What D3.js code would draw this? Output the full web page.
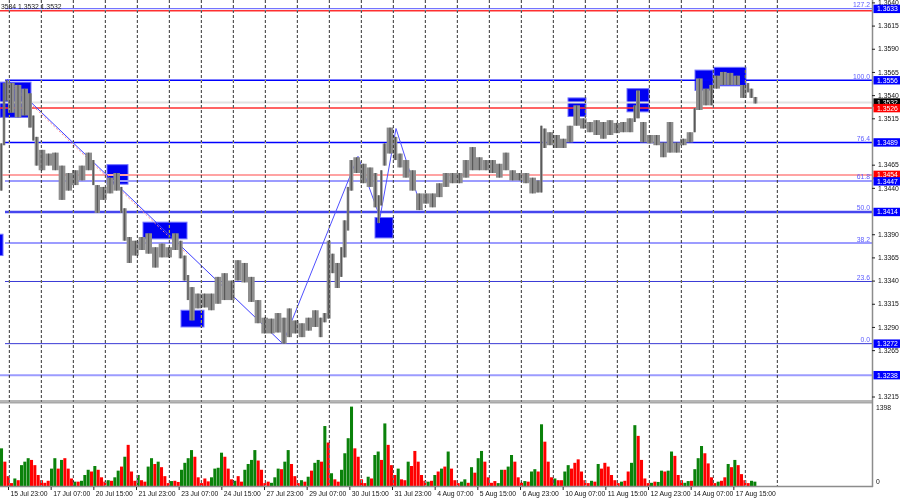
<!DOCTYPE html>
<html>
<head>
<meta charset="utf-8">
<script src="https://cdn.jsdelivr.net/npm/d3@7"></script>
<style>
  body { margin: 0; background: #fff; }
  svg { display: block; font-family: "Liberation Sans", Arial, sans-serif; }
  .grid line { mix-blend-mode: difference; }
</style>
</head>
<body>
<svg id="chart" width="900" height="500"></svg>
<script>
/* Price samples: start hour (bar index from left edge), high, low */
const barTimes = [0,2,4,6,11,16,21,24,26,29,34,39,44,49,54,59,64,69,71,75,80,85,90,92,95,99,104,109,114,119,124,129,134,137,140,142,146,151,156,161,166,171,176,181,186,191,196,201,206,211,215,219,224,229,234,239,242,245,248,251,255,257,260,262,265,270,275,280,283,285,287,290,295,298,302,307,312,317,322,327,332,337,342,347,352,357,362,367,372,377,382,387,392,397,402,405,407,410,415,420,425,430,435,440,445,450,455,460,465,470,475,477,480,485,490,495,500,505,510,515,520,522,527,532,535,540,545,550,555,560,562,565];
const lastBarEnd = 568;
const barHigh = [1.3488,1.3553,1.3556,1.3553,1.3551,1.3547,1.3542,1.3518,1.3495,1.3481,1.3477,1.3478,1.3464,1.3456,1.3459,1.3464,1.3478,1.3470,1.3443,1.3441,1.3451,1.3456,1.3441,1.3418,1.3387,1.3383,1.3387,1.3391,1.3376,1.3380,1.3376,1.3391,1.3383,1.3367,1.3346,1.3333,1.3326,1.3326,1.3326,1.3344,1.3348,1.3340,1.3362,1.3359,1.3344,1.3319,1.3300,1.3299,1.3305,1.3300,1.3310,1.3297,1.3294,1.3300,1.3308,1.3300,1.3305,1.3383,1.3369,1.3359,1.3376,1.3405,1.3441,1.3470,1.3473,1.3466,1.3462,1.3456,1.3432,1.3459,1.3488,1.3505,1.3495,1.3477,1.3470,1.3459,1.3434,1.3434,1.3434,1.3445,1.3456,1.3456,1.3456,1.3470,1.3484,1.3473,1.3470,1.3470,1.3466,1.3478,1.3459,1.3456,1.3456,1.3451,1.3448,1.3507,1.3504,1.3500,1.3497,1.3493,1.3507,1.3529,1.3515,1.3511,1.3513,1.3511,1.3513,1.3510,1.3511,1.3515,1.3529,1.3545,1.3511,1.3497,1.3497,1.3489,1.3511,1.3489,1.3493,1.3500,1.3526,1.3558,1.3547,1.3551,1.3561,1.3565,1.3564,1.3561,1.3551,1.3553,1.3547,1.3538];
const barLow = [1.3437,1.3486,1.3534,1.3521,1.3516,1.3518,1.3505,1.3491,1.3464,1.3459,1.3464,1.3459,1.3427,1.3437,1.3443,1.3448,1.3459,1.3443,1.3413,1.3427,1.3434,1.3437,1.3413,1.3383,1.3359,1.3367,1.3373,1.3369,1.3354,1.3365,1.3365,1.3373,1.3364,1.3340,1.3319,1.3297,1.3310,1.3311,1.3308,1.3315,1.3319,1.3319,1.3340,1.3338,1.3317,1.3294,1.3283,1.3283,1.3284,1.3272,1.3279,1.3283,1.3279,1.3286,1.3290,1.3279,1.3295,1.3299,1.3348,1.3332,1.3344,1.3365,1.3394,1.3437,1.3456,1.3445,1.3441,1.3419,1.3402,1.3421,1.3464,1.3477,1.3470,1.3462,1.3451,1.3437,1.3416,1.3423,1.3419,1.3430,1.3441,1.3445,1.3445,1.3451,1.3459,1.3459,1.3459,1.3456,1.3451,1.3459,1.3448,1.3448,1.3445,1.3434,1.3435,1.3435,1.3483,1.3486,1.3483,1.3483,1.3489,1.3507,1.3504,1.3500,1.3497,1.3493,1.3497,1.3499,1.3500,1.3500,1.3511,1.3515,1.3489,1.3488,1.3486,1.3473,1.3478,1.3478,1.3486,1.3489,1.3500,1.3524,1.3529,1.3529,1.3547,1.3551,1.3551,1.3551,1.3537,1.3543,1.3537,1.3531];

/* Volume samples, every 2.5 bars */
const volumeStep = 2.5;
const volumes = [650,420,170,50,130,100,360,420,480,450,
  360,190,100,55,90,300,480,300,450,480,
  300,130,75,75,90,190,280,250,345,280,
  150,75,100,90,150,265,335,505,710,250,
  90,190,100,75,335,480,380,420,325,170,
  50,85,90,70,280,400,480,620,505,150,
  50,130,80,150,300,315,575,505,300,115,
  90,170,75,280,380,450,620,440,280,50,
  75,55,150,300,290,420,620,380,170,50,
  100,75,160,265,400,450,420,1035,750,220,
  115,75,280,565,825,1370,650,505,115,50,
  160,130,535,595,450,1080,710,360,190,300,
  115,100,420,345,605,420,190,90,75,90,
  190,250,300,335,595,
  300,100,50,75,115,
  55,325,230,480,605,420,150,55,85,50,
  280,280,335,535,420,150,55,85,75,250,
  290,250,1065,765,420,150,130,100,100,250,
  360,300,400,460,250,100,50,90,75,380,
  300,400,335,190,100,50,75,90,250,400,
  1050,865,450,130,50,55,75,70,265,250,
  265,595,520,190,100,55,85,90,290,480,
  690,565,390,150,50,75,90,150,380,325,
  450,360,205,100,50,90,75];
const volumeDir = ('grrrgrgggr' + 'rrrrrggrgr' + 'rrgrgggrgr' + 'rrgrggrgrr' + 'rgrrggrgrr' +
  'rgrrggggrr' + 'rrrggggrrr' + 'grrggggrrr' + 'rgggrggrrr' + 'grgrggrgrg' +
  'rrggggrrrr' + 'grggrgrrrg' + 'rrgrrrrrgr' + 'grgrg' + 'rrrgg' +
  'rgrggrrrrg' + 'grggrrrgrg' + 'grgrrrgrrg' + 'grrrrrrgrg' + 'rrrrrrgrrg' +
  'grrrrgrggr' + 'ggrrrggrgg' + 'grrrrgrrgr' + 'grrrrgg').split('');
const volumeMax = 1398;

/* Axis labels */
const priceTicks = [1.3640,1.3615,1.3590,1.3565,1.3540,1.3515,1.3465,1.3440,1.3390,1.3365,1.3340,1.3315,1.3290,1.3265,1.3215];
const timeTicks = [6,38,70,102,134,166,198,230,262,294,326,358,390,422,454,486,518,550];
const timeLabels = ['15 Jul 23:00','17 Jul 07:00','20 Jul 15:00','21 Jul 23:00','23 Jul 07:00','24 Jul 15:00',
  '27 Jul 23:00','29 Jul 07:00','30 Jul 15:00','31 Jul 23:00','4 Aug 07:00','5 Aug 15:00',
  '6 Aug 23:00','10 Aug 07:00','11 Aug 15:00','12 Aug 23:00','14 Aug 07:00','17 Aug 15:00'];
const gridTimes = d3.range(7, 590, 24);

/* Fibonacci grid and other levels */
const fibLow = 1.3272, fibHigh = 1.3556;
const fibLevels = [127.2, 100.0, 76.4, 61.8, 50.0, 38.2, 23.6, 0.0];
const redLevels = [1.3631, 1.3526];
const pinkLevels = [1.3454];
const paleBlueLevels = [1.3238];
const lastPrice = 1.3532;
const boxLevels = [
  {p: 1.3633, k: 'blue'}, {p: 1.3556, k: 'blue'}, {p: 1.3532, k: 'last'}, {p: 1.3526, k: 'red'},
  {p: 1.3489, k: 'blue'}, {p: 1.3454, k: 'red'}, {p: 1.3447, k: 'blue'}, {p: 1.3414, k: 'blue'},
  {p: 1.3272, k: 'blue'}, {p: 1.3238, k: 'blue'}
];

/* Zones: [startBar, endBar, topPrice, bottomPrice] */
const zones = [[0,23.25,1.3554,1.3516],[80.25,96,1.3465,1.3444],[107.25,140.25,1.3403,1.3385],
  [135.75,153,1.3308,1.3290],[281.25,294.75,1.3408,1.3386],[426,439.5,1.3537,1.3517],
  [470.25,486.75,1.3547,1.3522],[521.25,534.75,1.3567,1.3545],[535.5,559.5,1.3570,1.3550],
  [-2,2.25,1.3390,1.3367]];

/* Trend lines: [bar, price] */
const trendMain = [[5.25,1.3557],[212,1.3272]];
const trendDotted = [[7.5,1.3552],[140,1.3369]];
const zigzag = [[212,1.3272],[268.5,1.3474],[285,1.3408],[297,1.3504],[316.5,1.3416]];

const headerText = '3534 1.3532 1.3532';

/* ---- layout ---- */
const plotRight = 872, priceBottom = 400, volTop = 404, volBottom = 486;
const fontSize = 6.8;

const svg = d3.select('#chart');
svg.append('rect').attr('width', 900).attr('height', 500).attr('fill', '#fff');

const x = d3.scaleLinear().domain([0, 654]).range([0, plotRight]);
const y = d3.scaleLinear().domain([1.3215, 1.3640]).range([396.5, 2.4]);
const yv = d3.scaleLinear().domain([0, volumeMax]).range([volBottom, 405]);

const defs = svg.append('defs');
defs.append('clipPath').attr('id', 'clipPrice')
    .append('rect').attr('x', 0).attr('y', 0).attr('width', plotRight).attr('height', priceBottom);
defs.append('clipPath').attr('id', 'clipVol')
    .append('rect').attr('x', 0).attr('y', volTop).attr('width', plotRight).attr('height', volBottom - volTop);

const pricePane = svg.append('g').attr('clip-path', 'url(#clipPrice)');
const volPane = svg.append('g').attr('clip-path', 'url(#clipVol)');

/* Zones */
pricePane.append('g').attr('class', 'zones')
  .selectAll('rect').data(zones).join('rect')
    .attr('x', d => x(d[0]))
    .attr('y', d => y(d[2]))
    .attr('width', d => x(d[1]) - x(d[0]))
    .attr('height', d => y(d[3]) - y(d[2]))
    .attr('fill', '#0000f2')
    .attr('stroke', '#7474ff')
    .attr('stroke-width', 1);

/* Level lines */
const fibStyle = {
  '127.2': ['#5a5aff', 1], '100.0': ['#0000ff', 1.5], '76.4': ['#0000ff', 1.5],
  '61.8': ['#9c9cff', 2], '50.0': ['#4646ee', 2.5], '38.2': ['#9c9cff', 2],
  '23.6': ['#3a3ad6', 1], '0.0': ['#3a3ad6', 1]
};
const levelsG = pricePane.append('g').attr('class', 'levels');

function hLine(p, color, width, x0) {
  levelsG.append('line')
      .attr('x1', x0).attr('x2', plotRight)
      .attr('y1', y(p)).attr('y2', y(p))
      .attr('stroke', color).attr('stroke-width', width);
}

hLine(lastPrice, '#e2e2e2', 2, 0);
pinkLevels.forEach(p => hLine(p, '#ffa3a3', 2, 0));
paleBlueLevels.forEach(p => hLine(p, '#9c9cff', 2, 0));
fibLevels.forEach(l => {
  const key = l.toFixed(1);
  const p = fibLow + (fibHigh - fibLow) * l / 100;
  hLine(p, fibStyle[key][0], fibStyle[key][1], x(3.75));
});
redLevels.forEach(p => hLine(p, '#ff3030', 1.5, 0));

/* Trend lines */
const line = d3.line().x(d => x(d[0])).y(d => y(d[1]));
pricePane.append('path').datum(trendMain).attr('d', line)
    .attr('fill', 'none').attr('stroke', '#3c3cff').attr('stroke-width', 1);
pricePane.append('path').datum(trendDotted).attr('d', line)
    .attr('fill', 'none').attr('stroke', '#ff8a8a').attr('stroke-width', 1)
    .attr('stroke-dasharray', '2,2');
pricePane.append('path').datum(zigzag).attr('d', line)
    .attr('fill', 'none').attr('stroke', '#5050ff').attr('stroke-width', 1);

/* Price bars */
const bars = barTimes.map((t, i) => ({
  t0: t,
  t1: i < barTimes.length - 1 ? barTimes[i + 1] : lastBarEnd,
  hi: barHigh[i],
  lo: barLow[i]
}));
const barsG = pricePane.append('g').attr('class', 'bars');
barsG.selectAll('rect').data(bars).join('rect')
    .attr('x', d => x(d.t0))
    .attr('width', d => Math.max(1, x(d.t1) - x(d.t0)))
    .attr('y', d => y(d.hi))
    .attr('height', d => Math.max(1, y(d.lo) - y(d.hi)))
    .attr('fill', '#8e8e8e');
barsG.selectAll('line').data(bars).join('line')
    .attr('x1', d => (x(d.t0) + x(d.t1)) / 2)
    .attr('x2', d => (x(d.t0) + x(d.t1)) / 2)
    .attr('y1', d => y(d.hi))
    .attr('y2', d => y(d.lo))
    .attr('stroke', '#4a4a4a')
    .attr('stroke-width', 0.9);

/* Fib labels */
svg.append('g').attr('class', 'fib-labels')
  .selectAll('text').data(fibLevels).join('text')
    .attr('x', plotRight - 2)
    .attr('y', l => y(fibLow + (fibHigh - fibLow) * l / 100) - 1.5)
    .attr('text-anchor', 'end')
    .attr('font-size', fontSize)
    .attr('fill', '#5c5cff')
    .text(l => l.toFixed(1));

/* Volume bars */
const volW = x(volumeStep) - x(0);
volPane.append('g').attr('class', 'volumes')
  .selectAll('rect').data(volumes).join('rect')
    .attr('x', (d, i) => x(i * volumeStep))
    .attr('width', volW - 0.3)
    .attr('y', d => yv(d))
    .attr('height', d => volBottom - yv(d))
    .attr('fill', (d, i) => volumeDir[i] === 'g' ? '#0a820a' : '#ff0000');

/* Vertical grid, inverted over whatever lies below */
const gridG = svg.append('g').attr('class', 'grid');
gridG.selectAll('line').data(gridTimes).join('line')
    .attr('x1', d => x(d)).attr('x2', d => x(d))
    .attr('y1', 0).attr('y2', volBottom)
    .attr('stroke', '#cccccc')
    .attr('stroke-width', 1)
    .attr('stroke-dasharray', '3,2');

/* Pane separators and frame */
svg.append('line').attr('x1', 0).attr('x2', plotRight).attr('y1', 401).attr('y2', 401)
    .attr('stroke', '#6f6f6f').attr('stroke-width', 1);
svg.append('line').attr('x1', 0).attr('x2', plotRight).attr('y1', 402.8).attr('y2', 402.8)
    .attr('stroke', '#a8a8a8').attr('stroke-width', 1.6);
svg.append('line').attr('x1', plotRight + 0.5).attr('x2', plotRight + 0.5).attr('y1', 0).attr('y2', volBottom + 1)
    .attr('stroke', '#8c8c8c').attr('stroke-width', 1.5);
svg.append('line').attr('x1', 0).attr('x2', plotRight + 1).attr('y1', volBottom + 0.5).attr('y2', volBottom + 0.5)
    .attr('stroke', '#8c8c8c').attr('stroke-width', 1.5);

/* Price axis */
const yAxis = svg.append('g')
    .attr('transform', `translate(${plotRight},0)`)
    .call(d3.axisRight(y).tickValues(priceTicks).tickSize(3).tickPadding(3).tickFormat(d3.format('.4f')));
yAxis.select('.domain').remove();
yAxis.selectAll('text').attr('font-size', fontSize).attr('fill', '#111').attr('font-family', null);
yAxis.selectAll('line').attr('stroke', '#222');

/* Level boxes on the price axis */
const boxColor = {blue: '#0000ff', red: '#ff0000', last: '#000000'};
const boxOrder = ['last', 'red', 'blue'];
const boxesG = svg.append('g').attr('class', 'level-boxes');
boxLevels.slice().sort((a, b) => boxOrder.indexOf(a.k) - boxOrder.indexOf(b.k) || a.p - b.p)
  .forEach(b => {
    const cy = y(b.p);
    boxesG.append('rect')
        .attr('x', plotRight + 1.5).attr('y', cy - 4.2)
        .attr('width', 900 - plotRight - 1.5).attr('height', 8.4)
        .attr('fill', boxColor[b.k]);
    boxesG.append('text')
        .attr('x', plotRight + 5).attr('y', cy + 2.5)
        .attr('font-size', fontSize).attr('fill', '#fff')
        .text(d3.format('.4f')(b.p));
  });

/* Volume axis */
svg.append('text').attr('x', plotRight + 4).attr('y', 409.5)
    .attr('font-size', fontSize).attr('fill', '#111').text(volumeMax);
svg.append('text').attr('x', plotRight + 4).attr('y', 484)
    .attr('font-size', fontSize).attr('fill', '#111').text('0');

/* Time axis */
const xAxis = svg.append('g')
    .attr('transform', `translate(0,${volBottom + 1})`)
    .call(d3.axisBottom(x).tickValues(timeTicks).tickSize(3).tickPadding(1)
      .tickFormat((d, i) => timeLabels[i]));
xAxis.select('.domain').remove();
xAxis.selectAll('text')
    .attr('text-anchor', 'start').attr('x', 2)
    .attr('font-size', fontSize).attr('fill', '#111').attr('font-family', null);
xAxis.selectAll('line').attr('stroke', '#222');

/* Header quote */
svg.append('text').attr('x', 1).attr('y', 9)
    .attr('font-size', fontSize).attr('fill', '#222').text(headerText);
</script>
</body>
</html>
